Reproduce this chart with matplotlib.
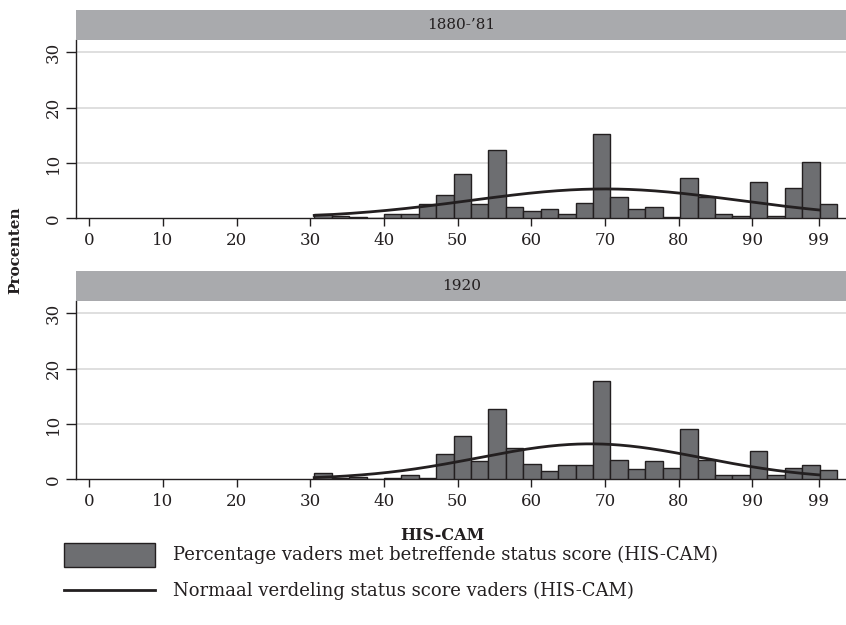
import numpy as np
import matplotlib
matplotlib.use("Agg")
import matplotlib.pyplot as plt
from matplotlib.patches import Rectangle
from matplotlib.lines import Line2D

plt.rcParams['font.family'] = ['DejaVu Serif']

# Histogram bins (HIS-CAM score)
bin_start = 30.53
bin_width = 2.365
n_bins = 30

# Percentage of fathers per bin
pct_1880 = [0.7, 0.4, 0.3, 0.0, 0.8, 0.7, 2.5, 4.2, 8.0, 2.5,
            12.4, 2.0, 1.3, 1.6, 0.7, 2.7, 15.2, 3.9, 1.7, 2.0,
            0.3, 7.3, 3.9, 0.7, 0.5, 6.6, 0.5, 5.4, 10.2, 2.5]
pct_1920 = [1.1, 0.2, 0.5, 0.0, 0.3, 0.7, 0.3, 4.5, 7.8, 3.3,
            12.7, 5.6, 2.8, 1.5, 2.6, 2.6, 17.7, 3.4, 1.9, 3.3,
            2.0, 9.0, 3.4, 0.7, 0.7, 5.2, 0.7, 2.0, 2.6, 1.7]

# Normal curve parameters (peak height, mean, sd)
norm_1880 = (5.3, 70.0, 18.3)
norm_1920 = (6.4, 68.0, 15.2)
score_max = 99

panel_titles = ["1880-\u201981", "1920"]
xtick_vals = [0, 10, 20, 30, 40, 50, 60, 70, 80, 90, 99]
ytick_vals = [0, 10, 20, 30]

bar_color = '#6d6e71'
edge_color = '#231f20'
strip_color = '#a9aaad'
grid_color = '#d9d9d9'

W, H = 846, 625
fig = plt.figure(figsize=(W / 100, H / 100), dpi=100)

def fx(px):
    return px / W

def fy(py):
    return 1 - py / H

# (axes top px, axes bottom px, strip top px)
layout = [(40, 218.3, 10), (301, 479.3, 271)]
left_px = 76.3

bin_edges = bin_start + bin_width * np.arange(n_bins)

for (top, bottom, strip_top), title, pct, norm in zip(
        layout, panel_titles, [pct_1880, pct_1920], [norm_1880, norm_1920]):
    ax = fig.add_axes([fx(left_px), fy(bottom), 1 - fx(left_px), (bottom - top) / H])
    ax.bar(bin_edges, pct, width=bin_width, align='edge',
           color=bar_color, edgecolor=edge_color, linewidth=1.0, zorder=3)
    peak, mu, sd = norm
    xs = np.linspace(bin_start, score_max, 300)
    ys = peak * np.exp(-(xs - mu) ** 2 / (2 * sd ** 2))
    ax.plot(xs, ys, color=edge_color, linewidth=2.0, zorder=4)

    ax.set_xlim(-1.76, 102.7)
    ax.set_ylim(0, 32.2)
    ax.set_xticks(xtick_vals)
    ax.set_yticks(ytick_vals)
    ax.set_yticklabels([str(v) for v in ytick_vals], rotation=90, va='center')
    ax.tick_params(axis='both', direction='out', width=1,
                   labelsize=12, colors='#231f20')
    ax.tick_params(axis='x', length=6, pad=4)
    ax.tick_params(axis='y', length=7, pad=3.5)
    for v in ytick_vals[1:]:
        ax.axhline(v, color=grid_color, linewidth=1.2, zorder=1)
    for s in ['top', 'right']:
        ax.spines[s].set_visible(False)
    for s in ['left', 'bottom']:
        ax.spines[s].set_color('#231f20')
        ax.spines[s].set_linewidth(1.0)

    # panel strip
    sax = fig.add_axes([fx(left_px), fy(top), 1 - fx(left_px), (top - strip_top) / H])
    sax.set_facecolor(strip_color)
    sax.set_xticks([])
    sax.set_yticks([])
    for s in sax.spines.values():
        s.set_visible(False)
    sax.text(0.5, 0.5, title, ha='center', va='center', fontsize=11,
             color='#231f20', transform=sax.transAxes)

fig.text(fx(15), fy(250), "Procenten", rotation=90, ha='center', va='center',
         fontsize=11, fontweight='bold', color='#231f20')
fig.text(fx(442), fy(535), "HIS-CAM", ha='center', va='center',
         fontsize=11.5, fontweight='bold', color='#231f20')

# legend
fig.add_artist(Rectangle((fx(64), fy(567)), fx(155) - fx(64), (567 - 543) / H,
                         transform=fig.transFigure, facecolor=bar_color,
                         edgecolor=edge_color, linewidth=1.0))
fig.add_artist(Line2D([fx(64), fx(155)], [fy(590), fy(590)],
                      transform=fig.transFigure, color=edge_color, linewidth=2.0))
fig.text(fx(173), fy(555), "Percentage vaders met betreffende status score (HIS-CAM)",
         ha='left', va='center', fontsize=13, color='#231f20')
fig.text(fx(173), fy(591), "Normaal verdeling status score vaders (HIS-CAM)",
         ha='left', va='center', fontsize=13, color='#231f20')

fig.savefig("out.png", dpi=100)
